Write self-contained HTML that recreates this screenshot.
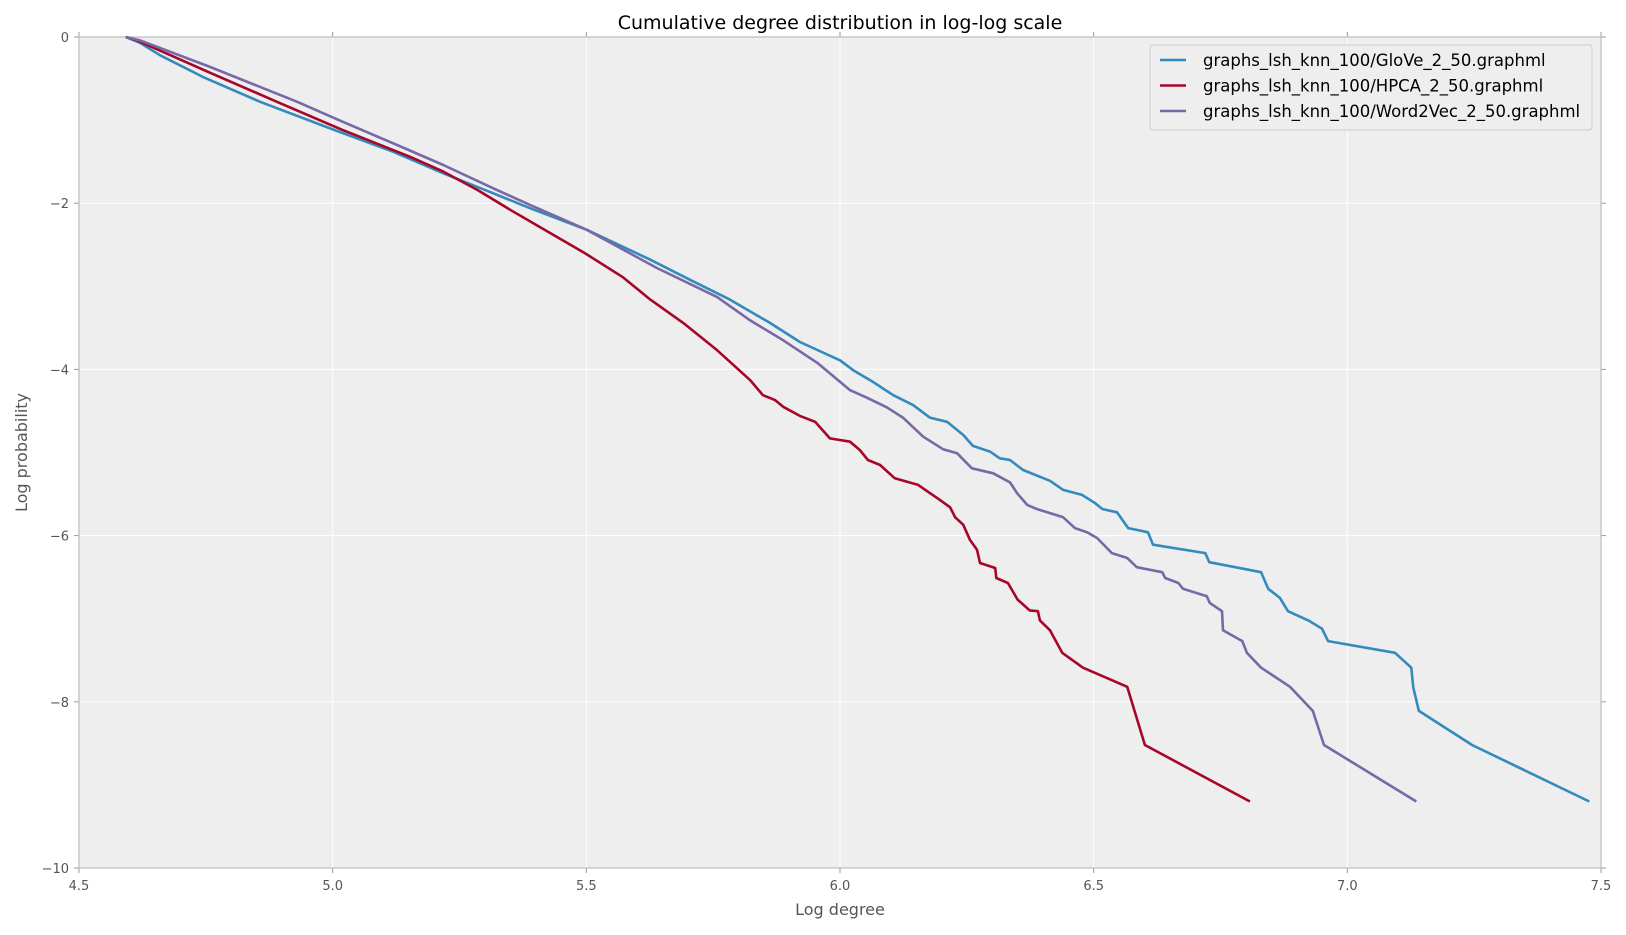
<!DOCTYPE html>
<html><head><meta charset="utf-8"><style>
body{margin:0;background:#fff;font-family:"Liberation Sans","DejaVu Sans",sans-serif;}
svg text{font-family:"DejaVu Sans","Liberation Sans",sans-serif;}
</style></head><body>
<svg id="chart" width="1626" height="930" viewBox="0 0 1626 930"></svg>
<script>
const xTicks=[4.5,5.0,5.5,6.0,6.5,7.0,7.5];
const yTicks=[0,-2,-4,-6,-8,-10];
const seriesNames=["graphs_lsh_knn_100/GloVe_2_50.graphml","graphs_lsh_knn_100/HPCA_2_50.graphml","graphs_lsh_knn_100/Word2Vec_2_50.graphml"];
const gloveX=[4.592,4.62,4.66,4.744,4.857,4.995,5.119,5.218,5.316,5.389,5.501,5.626,5.704,5.783,5.862,5.921,6.0,6.026,6.065,6.105,6.144,6.177,6.211,6.243,6.262,6.296,6.315,6.335,6.361,6.414,6.44,6.477,6.503,6.517,6.546,6.568,6.607,6.617,6.72,6.728,6.83,6.844,6.867,6.883,6.923,6.95,6.962,7.094,7.126,7.13,7.141,7.246,7.477];
const gloveY=[0,-0.07,-0.22,-0.48,-0.78,-1.1,-1.38,-1.64,-1.88,-2.06,-2.32,-2.68,-2.92,-3.16,-3.44,-3.67,-3.89,-4.01,-4.15,-4.31,-4.43,-4.58,-4.63,-4.79,-4.92,-4.99,-5.07,-5.09,-5.21,-5.34,-5.45,-5.51,-5.61,-5.68,-5.72,-5.91,-5.96,-6.11,-6.21,-6.32,-6.44,-6.64,-6.75,-6.91,-7.02,-7.12,-7.27,-7.41,-7.59,-7.83,-8.11,-8.52,-9.2];
const hpcaX=[4.592,4.614,4.758,4.89,5.02,5.152,5.218,5.285,5.35,5.409,5.494,5.572,5.626,5.691,5.758,5.823,5.848,5.872,5.888,5.921,5.951,5.98,6.02,6.039,6.055,6.079,6.108,6.154,6.197,6.217,6.227,6.243,6.256,6.27,6.276,6.306,6.308,6.331,6.35,6.374,6.39,6.394,6.414,6.438,6.479,6.566,6.601,6.808];
const hpcaY=[0,-0.04,-0.43,-0.78,-1.12,-1.44,-1.62,-1.84,-2.08,-2.29,-2.59,-2.89,-3.16,-3.44,-3.77,-4.13,-4.31,-4.37,-4.45,-4.56,-4.63,-4.83,-4.87,-4.97,-5.09,-5.15,-5.31,-5.39,-5.57,-5.66,-5.78,-5.87,-6.05,-6.17,-6.33,-6.39,-6.51,-6.57,-6.77,-6.9,-6.91,-7.02,-7.14,-7.41,-7.59,-7.82,-8.52,-9.2];
const w2vX=[4.592,4.62,4.758,4.93,5.02,5.127,5.218,5.316,5.389,5.501,5.639,5.758,5.823,5.888,5.955,6.02,6.053,6.093,6.124,6.164,6.203,6.231,6.26,6.302,6.335,6.349,6.369,6.388,6.44,6.463,6.487,6.507,6.536,6.566,6.585,6.635,6.641,6.667,6.676,6.723,6.729,6.753,6.755,6.793,6.802,6.83,6.887,6.932,6.954,7.136];
const w2vY=[0,-0.04,-0.36,-0.78,-1.02,-1.3,-1.54,-1.82,-2.02,-2.32,-2.78,-3.13,-3.41,-3.65,-3.92,-4.25,-4.34,-4.46,-4.58,-4.81,-4.96,-5.01,-5.19,-5.25,-5.36,-5.49,-5.63,-5.68,-5.78,-5.91,-5.96,-6.03,-6.21,-6.27,-6.38,-6.44,-6.51,-6.57,-6.64,-6.73,-6.81,-6.91,-7.14,-7.27,-7.41,-7.59,-7.82,-8.11,-8.52,-9.2];
const colors=["#348ABD","#A60628","#7A68A6"];

const NS="http://www.w3.org/2000/svg";
const svg=document.getElementById('chart');
const L=79,R=1601,T=37,B=868;
const sx=v=>L+(v-4.5)/3*(R-L);
const sy=v=>T+(0-v)/10*(B-T);
function mk(tag,attrs,parent){const e=document.createElementNS(NS,tag);for(const k in attrs)e.setAttribute(k,attrs[k]);(parent||svg).appendChild(e);return e;}

const bg=mk('rect',{x:L,y:T,width:R-L,height:B-T,fill:'#eeeeee'});


xTicks.forEach(t=>{
  const g=mk('line',{x1:sx(t),x2:sx(t),y1:T,y2:B,stroke:'#ffffff','stroke-width':1});
  
  
  mk('line',{x1:sx(t),x2:sx(t),y1:B,y2:B+5,stroke:'#999','stroke-width':1});
  mk('line',{x1:sx(t),x2:sx(t),y1:T,y2:T-5,stroke:'#999','stroke-width':1});
  const lb=mk('text',{x:sx(t),y:B+22,'text-anchor':'middle','font-size':13,fill:'#555'});
  lb.textContent=t.toFixed(1);
  
  
});
yTicks.forEach(t=>{
  const g=mk('line',{x1:L,x2:R,y1:sy(t),y2:sy(t),stroke:'#ffffff','stroke-width':1});
  
  
  mk('line',{x1:L-5,x2:L,y1:sy(t),y2:sy(t),stroke:'#999','stroke-width':1});
  mk('line',{x1:R,x2:R+5,y1:sy(t),y2:sy(t),stroke:'#999','stroke-width':1});
  const lb=mk('text',{x:L-10,y:sy(t)+5,'text-anchor':'end','font-size':13,fill:'#555'});
  lb.textContent=t===0?'0':'\u2212'+Math.abs(t);
  
  
});
const fr=mk('rect',{x:L,y:T,width:R-L,height:B-T,fill:'none',stroke:'#bcbcbc','stroke-width':1.2});



const xs=[gloveX,hpcaX,w2vX], ys=[gloveY,hpcaY,w2vY];
const lineNames=['glove-line','hpca-line','word2vec-line'];
for(let i=0;i<3;i++){
  const pts=xs[i].map((v,j)=>sx(v).toFixed(1)+','+sy(ys[i][j]).toFixed(1)).join(' ');
  const pl=mk('polyline',{points:pts,fill:'none',stroke:colors[i],'stroke-width':2.6,'stroke-linejoin':'round'});
  
  
}

const lg=mk('g',{});


mk('rect',{x:1150,y:45,width:442,height:85,rx:3,fill:'#eeeeee',stroke:'#cccccc','stroke-width':1},lg);
for(let i=0;i<3;i++){
  const yy=60+i*25.5;
  const ln=mk('line',{x1:1160,x2:1186,y1:yy,y2:yy,stroke:colors[i],'stroke-width':2.6},lg);
  
  
  const tx=mk('text',{x:1203,y:yy+6,'font-size':16.5,fill:'#000'},lg);
  tx.textContent=seriesNames[i];
  
  
}

const ti=mk('text',{x:(L+R)/2,y:29,'text-anchor':'middle','font-size':19,fill:'#000'});
ti.textContent='Cumulative degree distribution in log-log scale';


const xl=mk('text',{x:(L+R)/2,y:915,'text-anchor':'middle','font-size':16,fill:'#555'});
xl.textContent='Log degree';


const yl=mk('text',{x:27,y:(T+B)/2,'text-anchor':'middle','font-size':16,fill:'#555',transform:'rotate(-90 27 '+(T+B)/2+')'});
yl.textContent='Log probability';


</script>
</body></html>
